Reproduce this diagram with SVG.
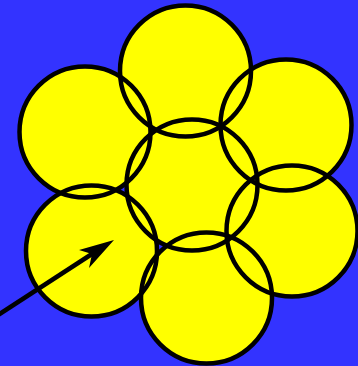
<svg xmlns="http://www.w3.org/2000/svg" width="358" height="366" viewBox="0 0 358 366">
<style>
.f{fill:#ffff00;stroke:none}
.s{fill:none;stroke:#000;stroke-width:4.5}
</style>
<defs>
<circle id="c" r="65.5"/>
</defs>
<rect width="358" height="366" fill="#3333ff"/>
<g id="fills">
<use href="#c" class="f" x="185.5" y="71"/>
<use href="#c" class="f" x="85" y="132"/>
<use href="#c" class="f" x="286" y="125"/>
<use href="#c" class="f" x="192" y="185"/>
<use href="#c" class="f" x="292" y="231"/>
<use href="#c" class="f" x="91.5" y="251"/>
<use href="#c" class="f" x="206.5" y="298"/>
</g>
<g id="node-top"><use href="#c" class="s" x="185.5" y="71"/></g>
<g id="node-upper-left"><use href="#c" class="s" x="85" y="132"/></g>
<g id="node-upper-right"><use href="#c" class="s" x="286" y="125"/></g>
<g id="node-center"><use href="#c" class="s" x="192" y="185"/></g>
<g id="node-right"><use href="#c" class="s" x="292" y="231"/></g>
<g id="node-lower-left"><use href="#c" class="s" x="91.5" y="251"/></g>
<g id="node-bottom"><use href="#c" class="s" x="206.5" y="298"/></g>
<g id="connectors">
<line x1="-2" y1="315" x2="95" y2="252" stroke="#000" stroke-width="4.5"/>
<polygon points="114,240 79,250 92,254 89,268" fill="#000"/>
</g>
</svg>
